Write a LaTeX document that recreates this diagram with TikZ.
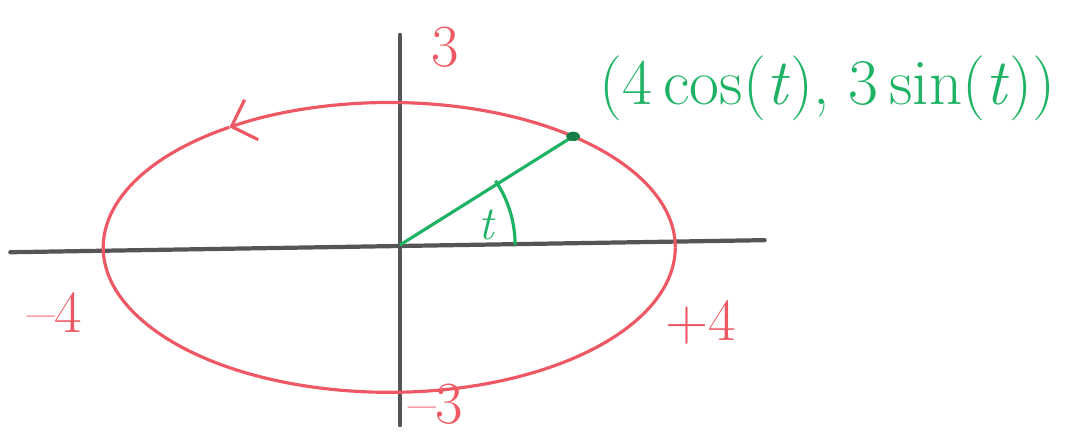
\documentclass[tikz,border=0pt]{standalone}
\usepackage{tikz}
\usetikzlibrary{arrows.meta}
\definecolor{ellred}{RGB}{238,88,100}
\definecolor{radgreen}{RGB}{30,178,100}
\definecolor{axgray}{RGB}{85,85,85}
\tikzset{
  axis/.style={axgray,line width=2.4pt,line cap=round},
  curve/.style={ellred,line width=1.8pt},
  redlabel/.style={ellred,inner sep=0pt,font=\fontsize{34}{41}\selectfont},
}
\begin{document}
\begin{tikzpicture}[x=1.43cm,y=0.966cm]
  \useasboundingbox (-5.594,-4.058) rectangle (9.566,5.072);
  \coordinate (O) at (0,0);
  \coordinate (C) at (-0.15,-0.05);
  \coordinate (xl) at (-5.45,-0.15);
  \coordinate (xr) at (5.1,0.1);
  \coordinate (yt) at (0,4.35);
  \coordinate (yb) at (0,-3.73);
  \draw[axis] (xl) -- (xr);
  \draw[axis] (yb) -- (yt);
  \draw[curve,-{Straight Barb[length=12pt,width=24pt,line width=1.8pt]}] ([shift={(0:4 and 3)}]C) arc[start angle=0,end angle=124,x radius=4,y radius=3];
  \draw[curve] ([shift={(124:4 and 3)}]C) arc[start angle=124,end angle=360,x radius=4,y radius=3];
  \coordinate (P) at ([shift={(50:4 and 3)}]C);
  \draw[radgreen,line width=1.8pt] (O) -- (P);
  \filldraw[radgreen!70!black] (P) circle(0.09);
  \draw[radgreen,line width=1.8pt] (1.61,0) arc[start angle=0,end angle=34,x radius=1.61,y radius=2.38];
  \node[radgreen,font=\fontsize{27}{32}\selectfont] (t) at (1.22,0.41) {\textit{t}};
  \node[radgreen,font=\fontsize{37}{44}\selectfont] (lab) at (5.98,3.25) {(4\,cos(\textit{t}),\ 3\,sin(\textit{t}))};
  \node[redlabel] (ytop) at (0.63,4.1) {3};
  \node[redlabel] (ybot) at (0.5,-3.3) {–3};
  \node[redlabel] (xleft) at (-4.83,-1.39) {–4};
  \node[redlabel] (xright) at (4.2,-1.6) {+4};
\end{tikzpicture}
\end{document}
